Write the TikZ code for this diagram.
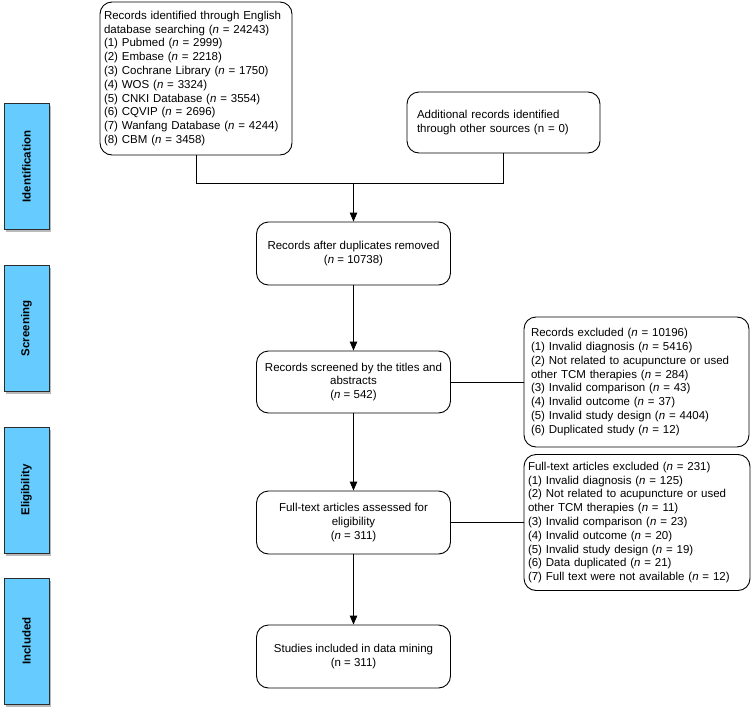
\documentclass[tikz,border=0pt]{standalone}
\usepackage{fontspec}
\setmainfont{Liberation Sans}
\usetikzlibrary{arrows.meta,shadows}
\definecolor{stageblue}{HTML}{66CCFF}
\definecolor{stageedge}{HTML}{2B2B2B}
\tikzset{
  box/.style={draw=black, line width=0.9pt, rounded corners=12pt, inner sep=0pt,
    font=\fontsize{11.5}{13.8}\selectfont},
  mainbox/.style={box, minimum width=194pt, minimum height=63pt, align=center},
  stage/.style={draw=stageedge, line width=0.9pt, fill=stageblue, minimum width=45pt,
    minimum height=126pt, inner sep=0pt,
    drop shadow={shadow xshift=2pt, shadow yshift=-2.5pt, opacity=0.45, fill=black!60},
    font=\fontsize{11.5}{13}\selectfont\bfseries},
  conn/.style={line width=0.9pt, draw=black},
  arr/.style={conn, -{Triangle[length=9pt,width=7.5pt]}}
}
\begin{document}
\begin{tikzpicture}[x=1pt,y=-1pt]
\useasboundingbox (0,0) rectangle (753,715);
% stage labels
\node[stage] (sid) at (26.5,166.5) {\rotatebox{90}{Identification}};
\node[stage] (ssc) at (26.5,328.5) {\rotatebox{90}{Screening}};
\node[stage] (sel) at (26.5,490) {\rotatebox{90}{Eligibility}};
\node[stage] (sin) at (26.5,641) {\rotatebox{90}{Included}};
% top boxes
\node[box, minimum width=192pt, minimum height=153pt, text width=184pt, align=left] (b1) at (196,78.5)
 {Records identified through English\\
  database searching (\textit{n} = 24243)\\
  (1) Pubmed (\textit{n} = 2999)\\
  (2) Embase (\textit{n} = 2218)\\
  (3) Cochrane Library (\textit{n} = 1750)\\
  (4) WOS (\textit{n} = 3324)\\
  (5) CNKI Database (\textit{n} = 3554)\\
  (6) CQVIP (\textit{n} = 2696)\\
  (7) Wanfang Database (\textit{n} = 4244)\\
  (8) CBM (\textit{n} = 3458)};
\node[box, minimum width=193pt, minimum height=61pt, text width=173pt, align=left] (b2) at (503.5,122.5)
 {Additional records identified\\through other sources (n = 0)};
\coordinate (j1) at (196,183);
\coordinate (j2) at (503.5,183);
\coordinate (j0) at (353.5,183);
\node[mainbox] (b3) at (353.5,253.5) {Records after duplicates removed\\(\textit{n} = 10738)};
\node[mainbox, minimum height=62pt] (b4) at (353.5,382) {Records screened by the titles and\\abstracts\\(\textit{n} = 542)};
\node[mainbox] (b5) at (353.5,522.5) {Full-text articles assessed for\\eligibility\\(\textit{n} = 311)};
\node[mainbox] (b6) at (353.5,656.5) {Studies included in data mining\\(n = 311)};
% exclusion boxes
\node[box, minimum width=225pt, minimum height=130pt, text width=211pt, align=left] (e1) at (636.5,382)
 {Records excluded (\textit{n} = 10196)\\
  (1) Invalid diagnosis (\textit{n} = 5416)\\
  (2) Not related to acupuncture or used\\
  other TCM therapies (\textit{n} = 284)\\
  (3) Invalid comparison (\textit{n} = 43)\\
  (4) Invalid outcome (\textit{n} = 37)\\
  (5) Invalid study design (\textit{n} = 4404)\\
  (6) Duplicated study (\textit{n} = 12)};
\node[box, minimum width=226pt, minimum height=136pt, text width=218pt, align=left] (e2) at (637,522.5)
 {Full-text articles excluded (\textit{n} = 231)\\
  (1) Invalid diagnosis (\textit{n} = 125)\\
  (2) Not related to acupuncture or used\\
  other TCM therapies (\textit{n} = 11)\\
  (3) Invalid comparison (\textit{n} = 23)\\
  (4) Invalid outcome (\textit{n} = 20)\\
  (5) Invalid study design (\textit{n} = 19)\\
  (6) Data duplicated (\textit{n} = 21)\\
  (7) Full text were not available (\textit{n} = 12)};
% connectors
\draw[conn] (b1.south) -- (j1) -- (j2) -- (b2.south);
\draw[arr] (j0) -- (b3.north);
\draw[arr] (b3.south) -- (b4.north);
\draw[arr] (b4.south) -- (b5.north);
\draw[arr] (b5.south) -- (b6.north);
\draw[conn] (b4.east) -- (e1.west);
\draw[conn] (b5.east) -- (e2.west);
\end{tikzpicture}
\end{document}
